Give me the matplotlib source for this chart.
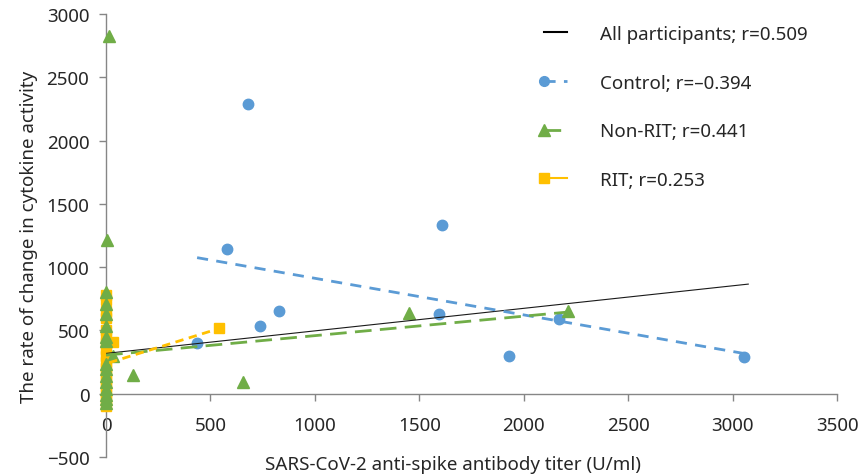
import matplotlib
matplotlib.use('Agg')
import matplotlib.pyplot as plt
from matplotlib.lines import Line2D
from matplotlib.legend_handler import HandlerLine2D

plt.rcParams['font.family'] = ['Noto Sans', 'DejaVu Sans']

# Scatter data
control_x = [436, 579, 680, 737, 828, 1594, 1608, 1929, 2168, 3054]
control_y = [400, 1142, 2287, 535, 652, 630, 1331, 298, 588, 290]

nonrit_x = [14, 5, 0, 0, 0, 0, 0, 0, 35, 0, 0, 0, 0, 0, 0, 0, 0, 131, 657, 1450, 2210]
nonrit_y = [2828, 1216, 803, 707, 630, 537, 448, 419, 295, 235, 195, 140, 90, 40, -10, -40, -70,
            148, 95, 635, 650]

rit_x = [0, 0, 0, 0, 0, 0, 0, 0, 0, 0, 0, 0, 0, 0, 0, 0, 0, 35, 543]
rit_y = [780, 740, 650, 600, 500, 450, 400, 350, 300, 250, 200, 150, 100, 50, 0, -50, -100,
         406, 516]

# Trend lines (end points)
all_fit_x = [3, 3075]
all_fit_y = [319, 866]
control_fit_x = [436, 3054]
control_fit_y = [1075, 318]
nonrit_fit_x = [0, 2210]
nonrit_fit_y = [305, 645]
rit_fit_x = [15, 543]
rit_fit_y = [245, 516]

labels = ['All participants; r=0.509', 'Control; r=\u20130.394',
          'Non-RIT; r=0.441', 'RIT; r=0.253']

blue = '#5B9BD5'
green = '#70AD47'
yellow = '#FFC000'
text_c = '#262626'
axis_c = '#868686'
fs = 13.5


class FirstMarkerHandler(HandlerLine2D):
    """Legend handler that puts the marker only at the left end."""
    def create_artists(self, *args, **kwargs):
        artists = super().create_artists(*args, **kwargs)
        for a in artists:
            a.set_markevery([0])
        return artists


fig = plt.figure(figsize=(8.6, 4.77), dpi=100)
ax = fig.add_axes([0.1233, 0.0398, 0.85, 0.9288])

ax.plot(rit_x, rit_y, 's', color=yellow, ms=7, clip_on=False, zorder=3)
ax.plot(nonrit_x, nonrit_y, '^', color=green, ms=8, clip_on=False, zorder=4)
ax.plot(control_x, control_y, 'o', color=blue, ms=7.5, clip_on=False, zorder=3)

ax.plot(all_fit_x, all_fit_y, '-', color='#1a1a1a', lw=0.8, zorder=5)
ax.plot(control_fit_x, control_fit_y, color=blue, lw=2, dashes=(4, 3), zorder=5)
ax.plot(nonrit_fit_x, nonrit_fit_y, color=green, lw=2, dashes=(6, 3), zorder=5)
ax.plot(rit_fit_x, rit_fit_y, color=yellow, lw=2, dashes=(3, 2), zorder=5)

ax.set_xlim(0, 3500)
ax.set_ylim(-500, 3000)
ax.set_xticks(range(0, 3501, 500))
ax.set_yticks(range(-500, 3001, 500))
ax.set_yticklabels([f'{v}'.replace('-', '\u2212') for v in range(-500, 3001, 500)])

for s in ['top', 'right']:
    ax.spines[s].set_visible(False)
ax.spines['bottom'].set_position(('data', 0))
for s in ['left', 'bottom']:
    ax.spines[s].set_color(axis_c)
    ax.spines[s].set_linewidth(1)
ax.tick_params(axis='both', colors=axis_c, labelcolor=text_c, labelsize=fs,
               length=5, width=1, direction='out')
ax.tick_params(axis='y', pad=7)
ax.tick_params(axis='x', pad=11)

ax.set_ylabel('The rate of change in cytokine activity', fontsize=fs, color=text_c,
              labelpad=6)
fig.text(453 / 860, 1 - 465 / 477, 'SARS-CoV-2 anti-spike antibody titer (U/ml)',
         ha='center', va='center', fontsize=fs, color=text_c)

handles = [
    Line2D([], [], color='black', lw=1.5),
    Line2D([], [], color=blue, lw=2, dashes=(4, 3), marker='o', ms=7),
    Line2D([], [], color=green, lw=2, dashes=(6, 3), marker='^', ms=8),
    Line2D([], [], color=yellow, lw=1.5, marker='s', ms=7),
]
leg = fig.legend(handles, labels, loc='upper left', bbox_to_anchor=(538 / 860, 1 - 26 / 477),
                 frameon=False, fontsize=fs, labelspacing=1.63, handlelength=1.87,
                 handletextpad=1.44, borderpad=0, borderaxespad=0,
                 handler_map={Line2D: FirstMarkerHandler(numpoints=2)})
for t in leg.get_texts():
    t.set_color(text_c)

fig.savefig('out.png', dpi=100)
